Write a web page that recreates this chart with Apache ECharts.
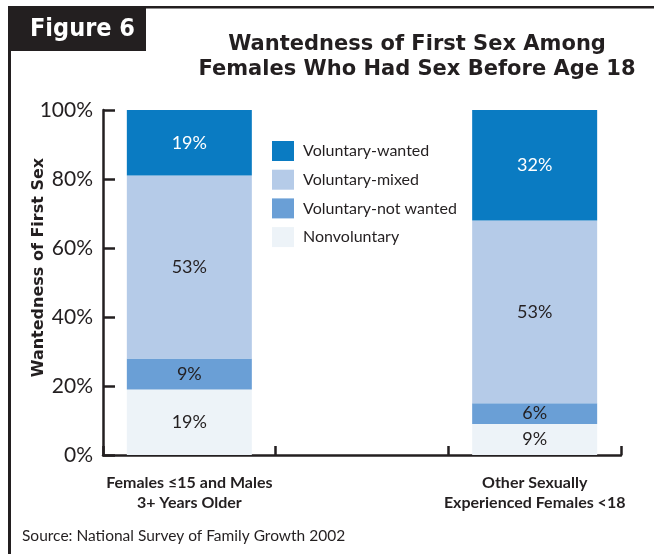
<!DOCTYPE html>
<html>
<head>
<meta charset="utf-8">
<script src="https://cdn.jsdelivr.net/npm/echarts@6/dist/echarts.min.js"></script>
<style>
  html, body { margin: 0; padding: 0; background: #fff; }
  #chart { width: 654px; height: 554px; }
</style>
</head>
<body>
<div id="chart"></div>
<script>
// categories (middle slot left empty to space the two bars)
var categories = ["Females \u226415 and Males\n3+ Years Older", "", "Other Sexually\nExperienced Females <18"];
var nonvoluntary = [19, null, 9];
var notWanted = [9, null, 6];
var mixed = [53, null, 53];
var wanted = [19, null, 32];
var yTicks = [0, 20, 40, 60, 80, 100];

var FONT = "Lato, 'Noto Sans', sans-serif";
var DARK = "#231f20";

var myChart = echarts.init(document.getElementById("chart"));

function barSeries(name, data, color, labelColor) {
  return {
    name: name,
    type: "bar",
    stack: "total",
    barWidth: 125,
    data: data,
    itemStyle: { color: color },
    label: {
      show: true,
      position: "inside",
      formatter: "{c}%",
      color: labelColor,
      fontFamily: FONT,
      fontSize: 18,
    },
  };
}

var options = {
  animation: false,
  backgroundColor: "#fff",
  graphic: [
    // frame lines
    { type: "rect", shape: { x: 8, y: 6, width: 646, height: 2.5 }, style: { fill: DARK } },
    { type: "rect", shape: { x: 8, y: 6, width: 3, height: 548 }, style: { fill: DARK } },
    // "Figure 6" tab
    { type: "rect", shape: { x: 8, y: 6, width: 138, height: 45 }, style: { fill: DARK } },
    {
      type: "text",
      x: 30,
      y: 29,
      style: {
        text: "Figure 6",
        fill: "#fff",
        verticalAlign: "middle",
        font: "bold 25px 'DejaVu Sans Condensed', 'DejaVu Sans', sans-serif",
      },
    },
    {
      type: "text",
      x: 417,
      y: 32,
      style: {
        text: "Wantedness of First Sex Among\nFemales Who Had Sex Before Age 18",
        fill: DARK,
        align: "center",
        verticalAlign: "top",
        lineHeight: 25,
        font: "bold 21px 'DejaVu Sans', sans-serif",
      },
    },
    {
      type: "text",
      x: 22,
      y: 536,
      style: {
        text: "Source: National Survey of Family Growth 2002",
        fill: DARK,
        verticalAlign: "middle",
        font: "15.5px " + FONT,
      },
    },
  ],
  legend: {
    orient: "vertical",
    left: 272,
    top: 141,
    padding: 0,
    itemWidth: 22,
    itemHeight: 20,
    itemGap: 8.7,
    icon: "rect",
    data: ["Voluntary-wanted", "Voluntary-mixed", "Voluntary-not wanted", "Nonvoluntary"],
    textStyle: { color: DARK, fontFamily: FONT, fontSize: 16, padding: [0, 0, 0, 4] },
  },
  grid: {
    left: 103,
    right: 33,
    top: 110,
    bottom: 99,
  },
  xAxis: {
    type: "category",
    data: categories,
    axisLine: { lineStyle: { color: DARK, width: 2.5 } },
    axisTick: { show: true, inside: true, length: 9, lineStyle: { color: DARK, width: 2.5 } },
    axisLabel: {
      interval: 0,
      margin: 18,
      color: DARK,
      fontFamily: FONT,
      fontWeight: "bold",
      fontSize: 16,
      lineHeight: 20,
    },
  },
  yAxis: {
    type: "value",
    min: 0,
    max: 100,
    interval: 20,
    name: "Wantedness of First Sex",
    nameLocation: "middle",
    nameGap: 56,
    nameMoveOverlap: false,
    nameTextStyle: {
      color: DARK,
      fontFamily: "'DejaVu Sans', sans-serif",
      fontWeight: "bold",
      fontSize: 16,
      padding: [0, 0, 0, 30],
    },
    axisLine: { show: true, lineStyle: { color: DARK, width: 2.5 } },
    axisTick: { show: true, inside: true, length: 12, lineStyle: { color: DARK, width: 2.5 } },
    splitLine: { show: false },
    axisLabel: {
      color: DARK,
      fontFamily: FONT,
      fontSize: 21,
      margin: 10,
      formatter: function (v) {
        return yTicks.indexOf(v) >= 0 ? v + "%" : "";
      },
    },
  },
  series: [
    barSeries("Nonvoluntary", nonvoluntary, "#edf3f8", DARK),
    barSeries("Voluntary-not wanted", notWanted, "#6a9fd6", DARK),
    barSeries("Voluntary-mixed", mixed, "#b5cbe8", DARK),
    barSeries("Voluntary-wanted", wanted, "#0a7bc2", "#fff"),
  ],
};
myChart.setOption(options);
</script>
</body>
</html>
